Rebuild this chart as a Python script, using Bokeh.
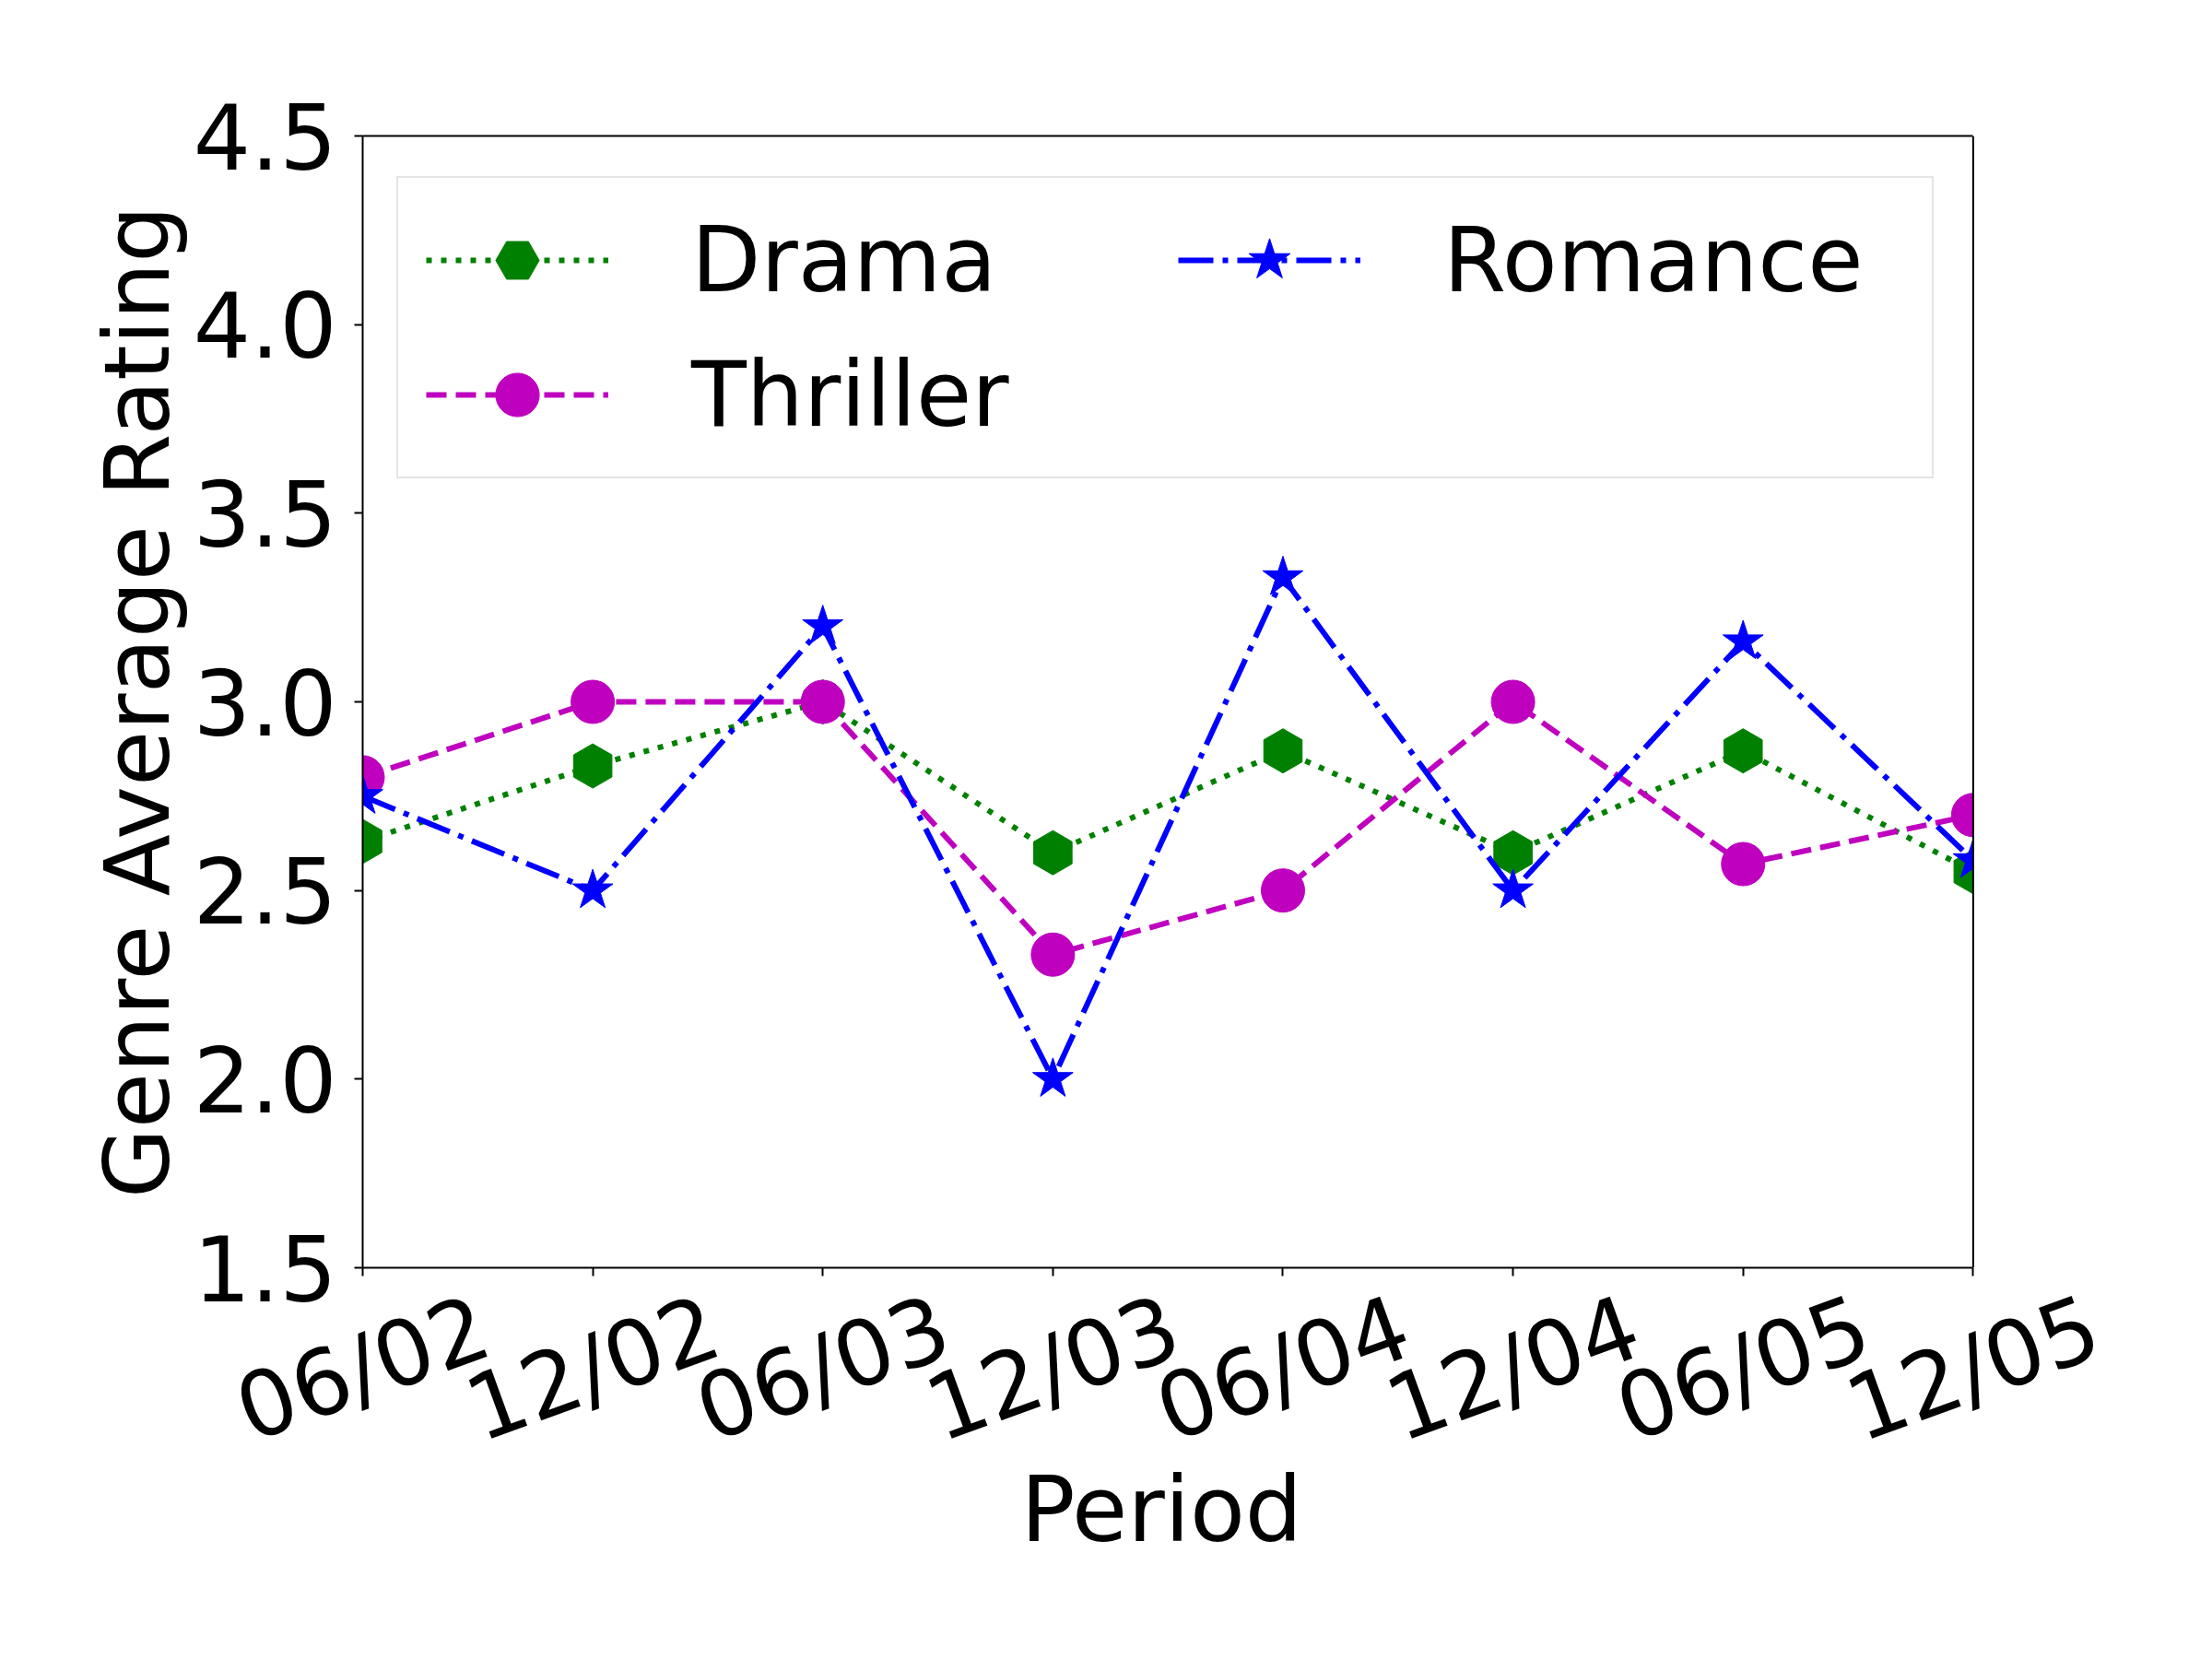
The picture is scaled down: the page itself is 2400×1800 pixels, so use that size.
import math
from bokeh.plotting import figure
from bokeh.models import (Range1d, FixedTicker, Legend, LegendItem, LinearAxis, Span,
                          BoxAnnotation, Title)
from bokeh.embed import file_html
from bokeh.resources import INLINE

# ---- data ----
periods = ["06/02", "12/02", "06/03", "12/03", "06/04", "12/04", "06/05", "12/05"]
drama = [2.63, 2.83, 3.00, 2.60, 2.87, 2.60, 2.87, 2.55]
thriller = [2.80, 3.00, 3.00, 2.33, 2.50, 3.00, 2.57, 2.70]
romance = [2.75, 2.50, 3.20, 2.00, 3.33, 2.50, 3.16, 2.58]
y_ticks = [1.5, 2.0, 2.5, 3.0, 3.5, 4.0, 4.5]
y_tick_labels = ["1.5", "2.0", "2.5", "3.0", "3.5", "4.0", "4.5"]
series_names = ["Drama", "Thriller", "Romance"]
x_title = "Period"
y_title = "Genre Average Rating"

pos = list(range(len(periods)))

FONT = "DejaVu Sans"
FS = "98px"
GREEN = "#008000"
MAGENTA = "#bf00bf"
BLUE = "#0000ff"

# geometry: axes box 1747 px wide; rotated tick labels need extra room
box_w = 1747
px_per_unit = box_w / (pos[-1] - pos[0])
shift = 132.6 / px_per_unit          # label anchor offset (data units)
frame_w = box_w + 132.6

p = figure(width=2384, height=1784, output_backend="svg", toolbar_location=None,
           title=None,
           x_range=Range1d(pos[0], pos[-1] + shift),
           y_range=Range1d(y_ticks[0], y_ticks[-1]),
           min_border_left=393, min_border_right=int(round(2384 - 393 - frame_w)),
           min_border_top=147, min_border_bottom=409)
p.background_fill_color = "white"
p.border_fill_color = "white"
p.xgrid.visible = False
p.ygrid.visible = False
p.outline_line_color = None

def style_axis(ax):
    ax.axis_line_color = "black"
    ax.axis_line_width = 2
    ax.major_tick_line_color = "black"
    ax.major_tick_line_width = 2
    ax.major_tick_out = 9
    ax.major_tick_in = 0
    ax.minor_tick_line_color = None
    ax.major_label_text_font = FONT
    ax.major_label_text_font_size = FS
    ax.major_label_text_color = "black"
    ax.axis_label_text_font = FONT
    ax.axis_label_text_font_size = FS
    ax.axis_label_text_font_style = "normal"
    ax.axis_label_text_color = "black"

style_axis(p.xaxis[0])
style_axis(p.yaxis[0])

p.yaxis.ticker = FixedTicker(ticks=y_ticks)
p.yaxis.major_label_overrides = {t: l for t, l in zip(y_ticks, y_tick_labels)}
p.yaxis.major_label_standoff = 19
p.yaxis.axis_label = y_title
p.yaxis.axis_label_standoff = 1

# main x axis: spine + tick marks only, over the data span
p.xaxis.ticker = FixedTicker(ticks=pos)
p.xaxis.bounds = (pos[0], pos[-1])
p.xaxis.major_label_overrides = {i: "" for i in pos}
p.xaxis.major_label_standoff = 0

# top spine
top_axis = LinearAxis(ticker=FixedTicker(ticks=[]), bounds=(pos[0], pos[-1]))
style_axis(top_axis)
top_axis.major_tick_line_color = None
top_axis.major_tick_out = 0
p.add_layout(top_axis, "above")

# label axis: same scale, shifted so that rotated (right-anchored) labels
# end up centred under each tick, as in the reference
p.extra_x_ranges = {"lab": Range1d(pos[0] - shift, pos[-1])}
lab_axis = LinearAxis(x_range_name="lab", ticker=FixedTicker(ticks=pos))
style_axis(lab_axis)
lab_axis.axis_line_color = None
lab_axis.major_tick_line_color = None
lab_axis.major_tick_out = 0
lab_axis.major_label_overrides = {i: t for i, t in zip(pos, periods)}
lab_axis.major_label_orientation = math.radians(20)
lab_axis.major_label_standoff = 52
p.add_layout(lab_axis, "below")

# x title centred under the data span (not the widened frame)
p.add_layout(Title(text=x_title, align="left", offset=714, vertical_align="top",
                   standoff=-126, text_font=FONT, text_font_size=FS,
                   text_font_style="normal", text_color="black"), "below")

# series
lw = 6
d_line = p.line(pos, drama, line_color=GREEN, line_width=lw, line_dash="6 10")
d_mark = p.scatter(pos, drama, marker="hex", size=48, angle=math.pi / 2,
                   fill_color=GREEN, line_color=GREEN)
t_line = p.line(pos, thriller, line_color=MAGENTA, line_width=lw, line_dash="22 10")
t_mark = p.scatter(pos, thriller, marker="circle", size=47,
                   fill_color=MAGENTA, line_color=MAGENTA)
r_line = p.line(pos, romance, line_color=BLUE, line_width=lw, line_dash="38 10 6 10")
r_mark = p.scatter(pos, romance, marker="star", size=46,
                   fill_color=BLUE, line_color=BLUE)

# clip markers at the right edge of the axes box, then right spine
p.add_layout(BoxAnnotation(left=pos[-1], fill_color="white", fill_alpha=1.0,
                           line_color=None))
p.add_layout(Span(location=pos[-1], dimension="height", line_color="black",
                  line_width=2))

legend = Legend(items=[
    LegendItem(label=series_names[0], renderers=[d_line, d_mark]),
    LegendItem(label=series_names[1], renderers=[t_line, t_mark]),
    LegendItem(label=series_names[2], renderers=[r_line, r_mark]),
], location=(37, 856), ncols=2)
legend.label_text_font = FONT
legend.label_text_font_size = FS
legend.label_text_color = "black"
legend.glyph_width = 198
legend.glyph_height = 118
legend.label_height = 118
legend.label_width = 500
legend.label_standoff = 90
legend.spacing = 28
legend.padding = 30
legend.margin = 0
legend.border_line_color = "#cccccc"
legend.border_line_width = 2
legend.background_fill_color = "white"
legend.background_fill_alpha = 0.8
p.add_layout(legend)

open("out.html", "w").write(file_html(p, INLINE))
